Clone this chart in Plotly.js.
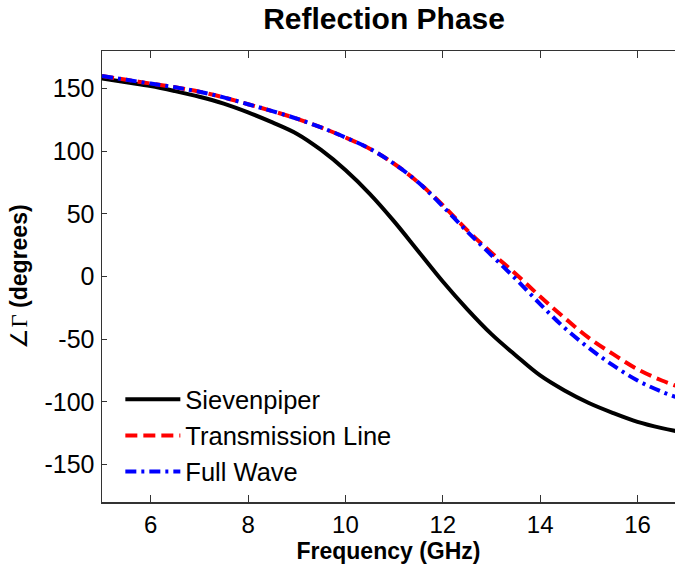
<!DOCTYPE html>
<html><head><meta charset="utf-8">
<script src="https://cdn.plot.ly/plotly-3.0.1.min.js"></script>
<style>html,body{margin:0;padding:0;background:#fff}#chart{width:675px;height:567px}</style>
</head><body><div id="chart"></div>
<script>
const freq = [5,5.5,6,6.5,7,7.5,8,8.5,9,9.5,10,10.5,11,11.5,12,12.5,13,13.5,14,14.5,15,15.5,16,16.5,17];
const sievenpiper = [158,155,152,148,143.5,138,131,123,114,101,85,66,44,20,-4,-26,-46,-63,-79,-91,-101,-109,-116,-121,-125];
const transmissionLine = [160,157,154,151,147.5,143,137.5,132,126,119,111,102,90,75,57,37,19,2,-16,-33,-49,-62,-74,-83,-90];
const fullWave = [160,157,154,151,147.5,143,137.5,132,126,119,111,102,90,75,56,36,17,-2,-22,-41,-57,-71,-83,-92,-99];
const xTicks = [6,8,10,12,14,16];
const yTicks = [-150,-100,-50,0,50,100,150];
const names = ['Sievenpiper','Transmission Line','Full Wave'];

const traces = [
  {x:freq, y:sievenpiper, name:names[0], mode:'lines', line:{color:'#000000', width:4, shape:'spline'}},
  {x:freq, y:transmissionLine, name:names[1], mode:'lines', line:{color:'#ff0000', width:4, dash:'12px,6px', shape:'spline'}},
  {x:freq, y:fullWave, name:names[2], mode:'lines', line:{color:'#0000ff', width:4, dash:'11px,5px,3px,5px', shape:'spline'}}
];
const F = 'Liberation Sans, Arial, sans-serif';
const layout = {
  width:675, height:567,
  margin:{l:102, r:0, t:51, b:65, pad:0},
  paper_bgcolor:'#ffffff', plot_bgcolor:'#ffffff',
  font:{family:F, color:'#000000', size:24},
  title:{text:'<b>Reflection Phase</b>', font:{family:F, size:30, color:'#000'}, xref:'container', x:0.569, xanchor:'center', yref:'container', y:0.967, yanchor:'middle'},
  xaxis:{range:[5,16.77], tickvals:xTicks, ticktext:xTicks.map(String), ticks:'inside', ticklen:7, tickcolor:'#333', tickwidth:1,
    showline:true, linecolor:'#333', linewidth:1.5, mirror:'ticks', showgrid:false, zeroline:false,
    tickfont:{size:24, family:F}, ticklabelstandoff:1,
    title:{text:'<b>Frequency (GHz)</b>', font:{size:23, family:F}, standoff:2}},
  yaxis:{range:[-180,180], tickvals:yTicks, ticktext:yTicks.map(String), ticks:'inside', ticklen:5, tickcolor:'#333', tickwidth:1,
    showline:true, linecolor:'#333', linewidth:1.5, mirror:false, showgrid:false, zeroline:false,
    tickfont:{size:25, family:F}, ticklabelstandoff:1,
    title:{text:'∠<span style="font-family:Liberation Serif">Γ</span> <b>(degrees)</b>', font:{size:23, family:F}, standoff:10}},
  showlegend:true,
  legend:{x:0.032, y:0.279, xanchor:'left', yanchor:'top', bgcolor:'rgba(0,0,0,0)', borderwidth:0,
    font:{size:25.5, family:F}, itemwidth:55, tracegroupgap:0}
};
Plotly.newPlot('chart', traces, layout, {displayModeBar:false, staticPlot:true});
</script>
</body></html>
